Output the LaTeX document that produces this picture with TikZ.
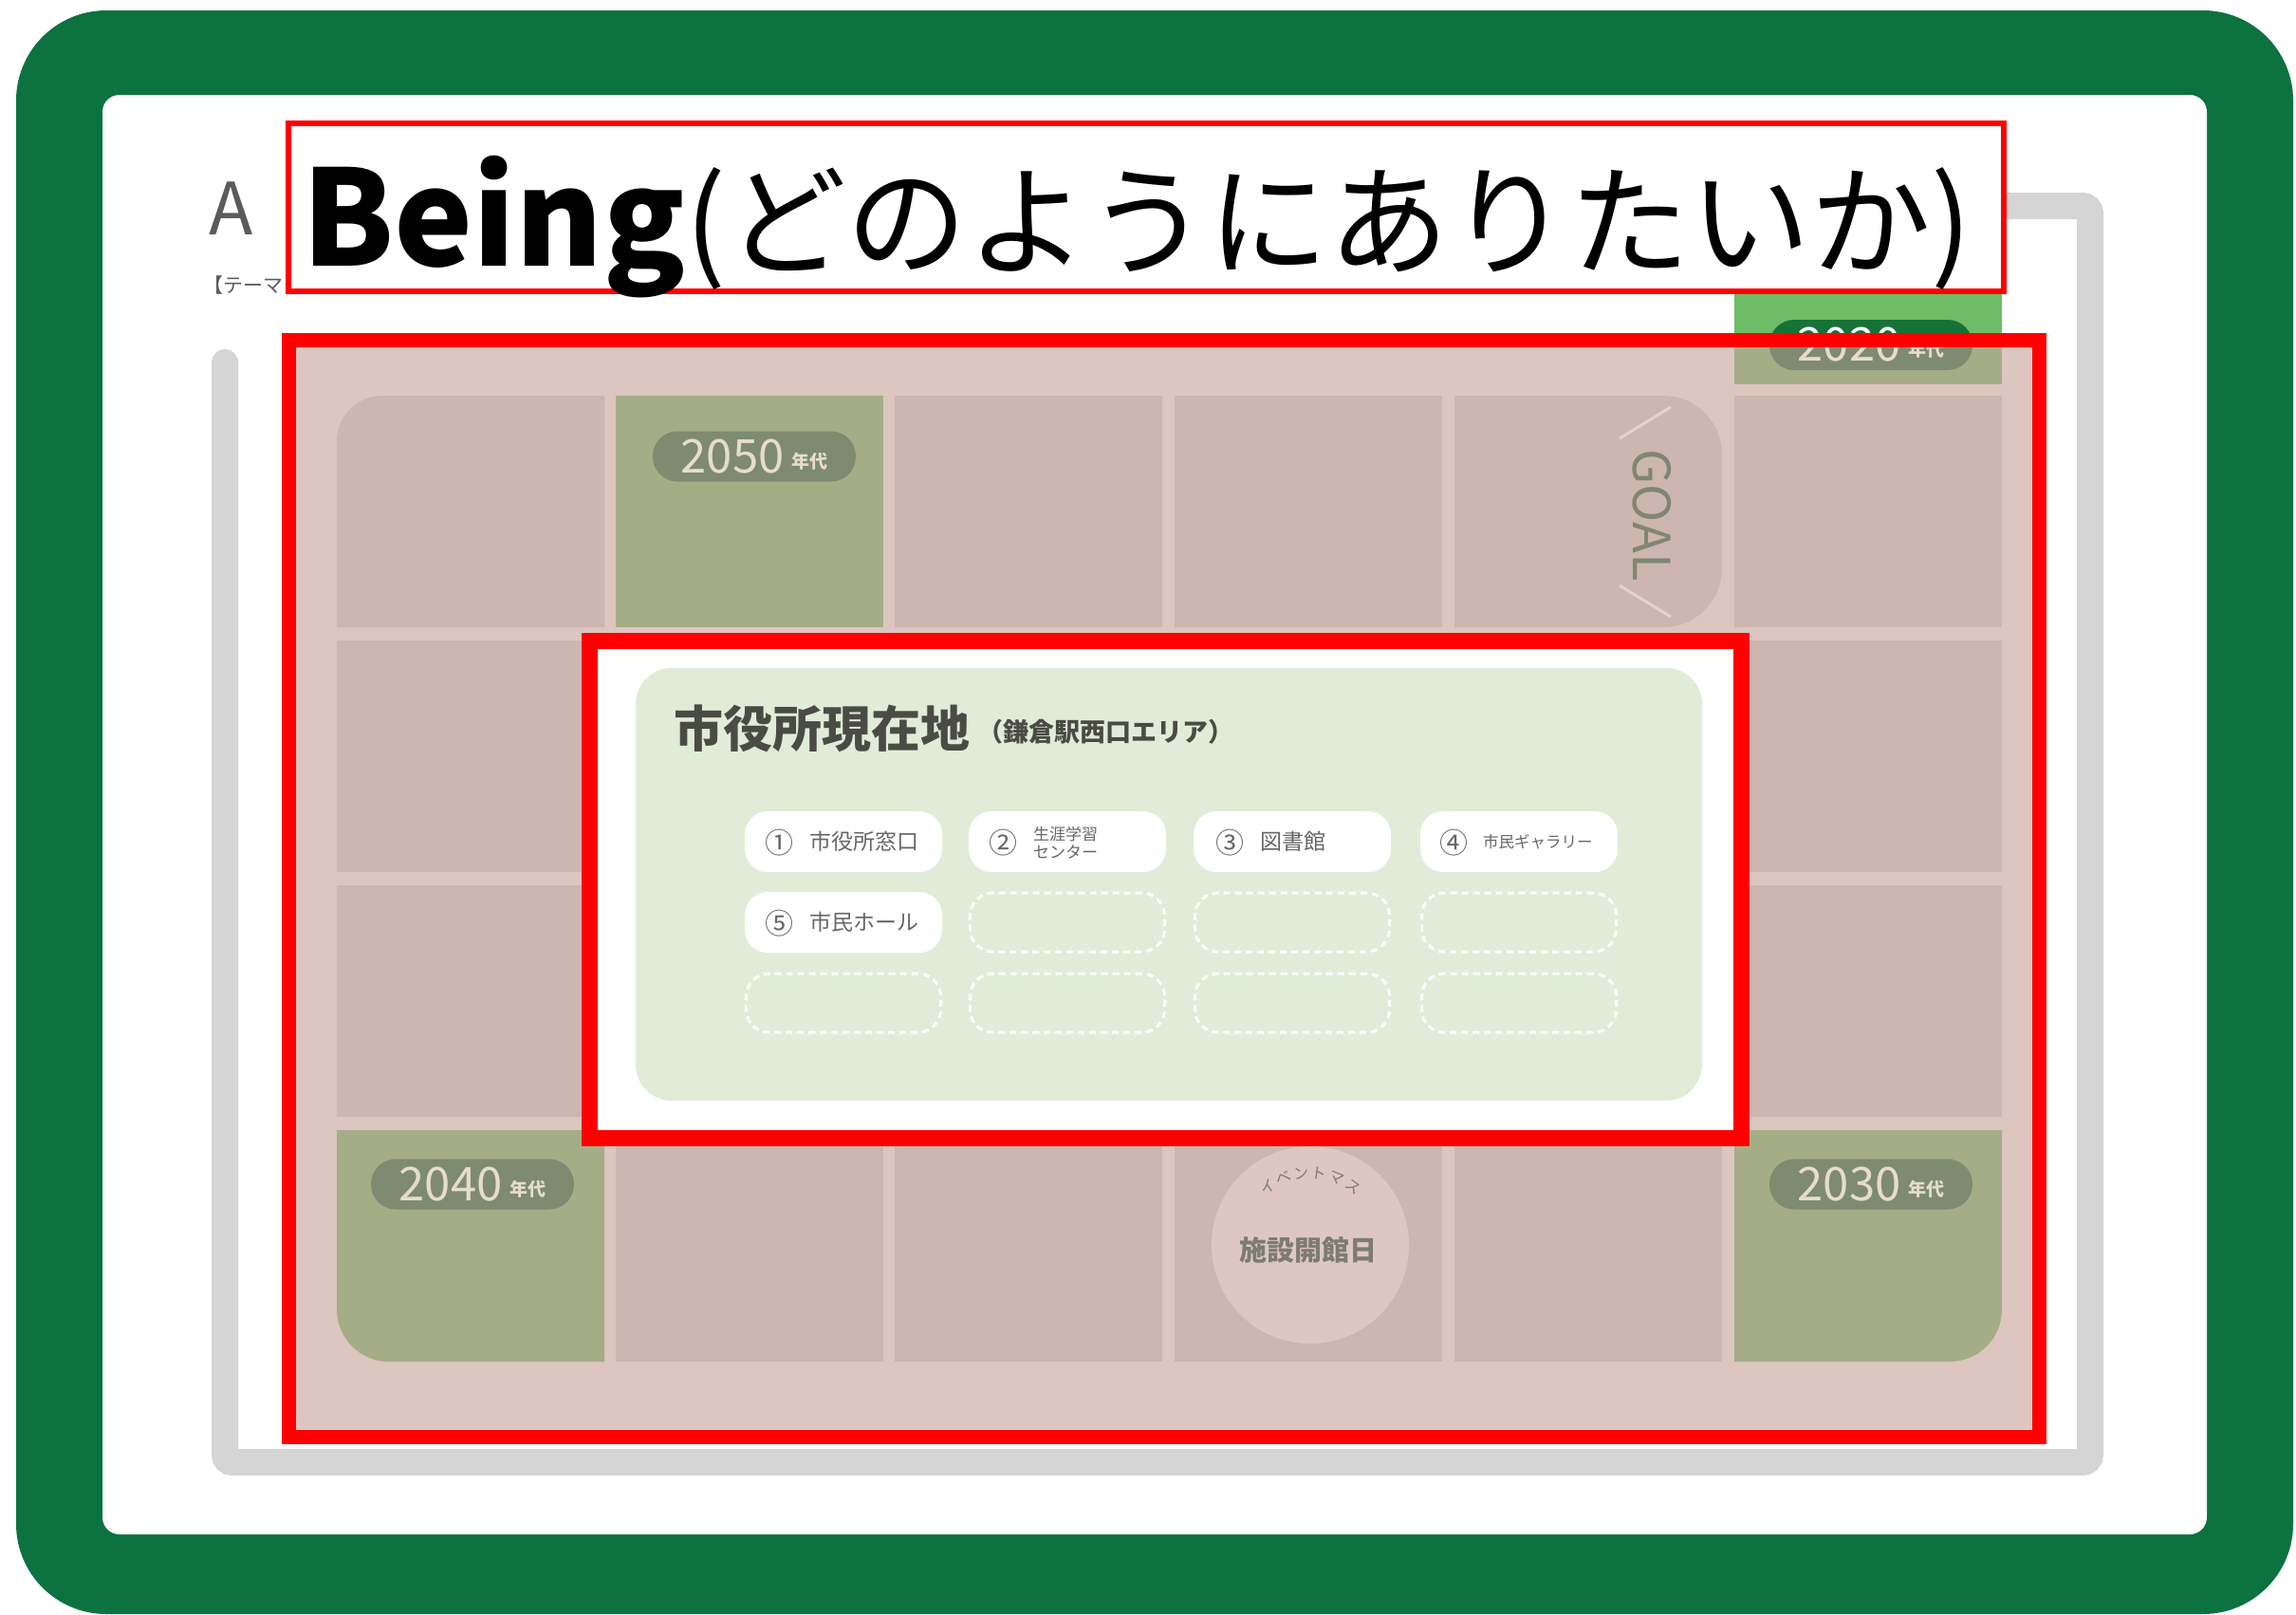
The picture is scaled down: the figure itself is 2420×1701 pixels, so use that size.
\documentclass[tikz,border=0pt]{standalone}
\usepackage{fontspec}
\setmainfont{Noto Sans CJK JP}
\definecolor{frameGreen}{HTML}{0C723F}
\definecolor{boardPink}{HTML}{DDC5C0}
\definecolor{cellPink}{HTML}{CDB5B0}
\definecolor{eraGreen}{HTML}{A5AD87}
\definecolor{yearDark}{HTML}{7E8B70}
\definecolor{yearText}{HTML}{E6DCCD}
\definecolor{brightGreen}{HTML}{6CBD65}
\definecolor{darkPill}{HTML}{177238}
\definecolor{panelGreen}{HTML}{E0ECD8}
\definecolor{labelGrey}{HTML}{666666}
\definecolor{headGrey}{HTML}{4B4B45}
\definecolor{gridGrey}{HTML}{D5D5D5}
\definecolor{goalGrey}{HTML}{7E8671}
\definecolor{goalLine}{HTML}{E3D3CF}
\definecolor{evPink}{HTML}{DEC7C2}
\definecolor{evText}{HTML}{7C7D6F}
\definecolor{aGrey}{HTML}{5B5B5B}
\newcommand{\era}[1]{{\fontsize{49}{49}\selectfont #1}\hspace{8pt}\raisebox{5pt}{\fontsize{19}{19}\selectfont\bfseries 年代}}

\begin{document}
\begin{tikzpicture}[x=1pt,y=-1pt,every node/.style={inner sep=0pt},
  cell/.style={fill=cellPink},
  era/.style={fill=eraGreen},
  yearpill/.style={fill=yearDark,text=yearText,rounded corners=26pt,minimum width=214pt,minimum height=53pt},
  spot/.style={fill=white,rounded corners=24pt,minimum width=208pt,minimum height=64pt},
  emptyspot/.style={draw=white,dashed,dash pattern=on 7pt off 5pt,line width=3pt,rounded corners=24pt,minimum width=205pt,minimum height=62pt},
  num/.style={text=labelGrey,font=\fontsize{30}{30}\selectfont},
  lbl/.style={text=labelGrey,anchor=west,font=\fontsize{23}{23}\selectfont}]
\useasboundingbox (0,0) rectangle (2420,1701);
\fill[frameGreen,rounded corners=95pt] (17,11) rectangle (2417,1701);
\fill[white,rounded corners=18pt] (108,100) rectangle (2326,1617);
\draw[gridGrey,line width=28pt,line cap=round,rounded corners=8pt] (237,382) -- (237,1541) -- (2203,1541) -- (2203,217) -- (1900,217);
\node[anchor=base west,text=aGrey,font=\fontsize{76}{76}\selectfont] (alabel) at (220,247) {A};
\node[anchor=base west,text=aGrey,font=\fontsize{21}{21}\selectfont] (atheme) at (214,308) {【テーマ};

\fill[boardPink] (304,358) rectangle (2150,1515);
\fill[cell] (355,661) -- (355,465) arc[start angle=180,end angle=270,radius=48] -- (637,417) -- (637,661) -- cycle;
\fill[era] (649,417) rectangle ++(282,244);
\foreach \x in {943,1238,1828} \fill[cell] (\x,417) rectangle ++(282,244);
\fill[cell] (1533,417) -- (1753,417) arc[start angle=270,end angle=360,radius=62] -- (1815,599) arc[start angle=0,end angle=90,radius=62] -- (1533,661) -- cycle;
\foreach \y in {675,933} {\fill[cell] (355,\y) rectangle ++(282,244); \fill[cell] (1828,\y) rectangle ++(282,244);}
\fill[era] (355,1191) -- (355,1380) arc[start angle=180,end angle=90,radius=55] -- (637,1435) -- (637,1191) -- cycle;
\foreach \x in {649,943,1238,1533} \fill[cell] (\x,1191) rectangle ++(282,244);
\fill[era] (1828,1191) -- (1828,1435) -- (2055,1435) arc[start angle=90,end angle=0,radius=55] -- (2110,1191) -- cycle;
\fill[era] (1828,159) rectangle (2110,405);

\node[yearpill] (y2050) at (795,481) {\era{2050}};
\node[yearpill] (y2040) at (498,1248) {\era{2040}};
\node[yearpill] (y2030) at (1972,1248) {\era{2030}};
\node[yearpill] (y2020) at (1972,363.5) {\era{2020}};
\begin{scope}
\clip (1800,300) rectangle (2140,352);
\fill[brightGreen] (1828,159) rectangle (2110,405);
\node[yearpill,fill=darkPill,text=white] (y2020top) at (1972,363.5) {\era{2020}};
\end{scope}

\node[rotate=-90,text=goalGrey,font=\fontsize{54}{54}\selectfont] (goal) at (1741,543) {GOAL};
\draw[goalLine,line width=3pt] (1707,462) -- (1761,429) (1707,617) -- (1761,650);
\node[circle,fill=evPink,minimum size=208pt] (ev) at (1381,1312) {};
\node[text=evText,font=\fontsize{29}{29}\selectfont\bfseries] (evname) at (1379,1317) {施設開館日};
\foreach \c [count=\i from 0] in {イ,ベ,ン,ト,マ,ス}
  \node[text=evText,font=\fontsize{16}{16}\selectfont,rotate={270-(234+14.4*\i)}] (evarc\i) at ({1381+76*cos(234+14.4*\i)},{1312+76*sin(234+14.4*\i)}) {\c};

\draw[red,line width=15pt] (304.5,358.5) rectangle (2149.5,1514.5);
\filldraw[fill=white,draw=red,line width=17pt] (621,675.5) rectangle (1835,1199.5);
\fill[panelGreen,rounded corners=38pt] (670,704) rectangle (1794,1160);
\node[anchor=base west,text=headGrey,font=\fontsize{52}{52}\selectfont\bfseries] (head) at (710,787) {市役所現在地};
\node[anchor=base west,text=headGrey,font=\fontsize{27}{27}\selectfont\bfseries] (headsub) at (1030,781) {（鎌倉駅西口エリア）};

\node[spot] (s1) at (889,887) {}; \node[num] (n1) at (821,888) {①}; \node[lbl] (t1) at (853,887) {市役所窓口};
\node[spot] (s2) at (1125,887) {}; \node[num] (n2) at (1057,888) {②}; \node[lbl,align=left,font=\fontsize{17}{19}\selectfont] (t2) at (1089,888) {生涯学習\\センター};
\node[spot] (s3) at (1362,887) {}; \node[num] (n3) at (1296,888) {③}; \node[lbl] (t3) at (1328,887) {図書館};
\node[spot] (s4) at (1601,887) {}; \node[num] (n4) at (1532,888) {④}; \node[lbl,font=\fontsize{16.5}{16.5}\selectfont] (t4) at (1563,887) {市民ギャラリー};
\node[spot] (s5) at (889,972) {}; \node[num] (n5) at (821,973) {⑤}; \node[lbl] (t5) at (853,972) {市民ホール};
\foreach \x [count=\i] in {1125,1362,1601} \node[emptyspot] (da\i) at (\x,972) {};
\foreach \x [count=\i] in {889,1125,1362,1601} \node[emptyspot] (db\i) at (\x,1057) {};

\filldraw[fill=white,draw=red,line width=6pt] (304,130) rectangle (2112,307);
\node[anchor=base west] (title) at (318,280) {\fontsize{140}{140}\selectfont\bfseries Being\fontsize{127}{127}\selectfont\mdseries(どのようにありたいか)};
\end{tikzpicture}
\end{document}
